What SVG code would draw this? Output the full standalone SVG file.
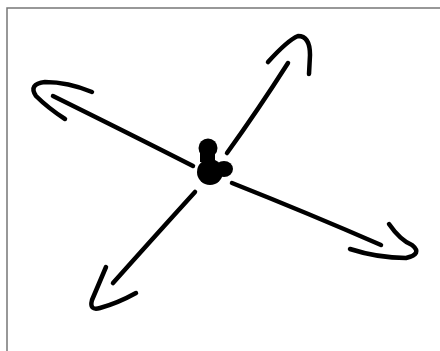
<svg xmlns="http://www.w3.org/2000/svg" width="440" height="351" viewBox="0 0 440 351">
<style>
.ln{fill:none;stroke:#000;stroke-width:4.5;stroke-linecap:round;stroke-linejoin:round}
</style>
<rect x="0" y="0" width="440" height="351" fill="#fff"/>
<rect x="7" y="8" width="440" height="360" fill="none" stroke="#777" stroke-width="1.5"/>
<g id="connectors">
<path class="ln" d="M193,166 Q130,134 53,96"/>
<path class="ln" d="M92,92 Q68,82 45,82 Q28,84 36,96 Q48,108 65,119"/>
<path class="ln" d="M227,153 Q258,110 288,63"/>
<path class="ln" d="M268,62 Q288,40 298,36 Q310,36 310,55 L309,74"/>
<path class="ln" d="M232,183 Q310,214 381,245"/>
<path class="ln" d="M389,224 Q400,240 412,245 Q423,254 406,258 Q378,258 350,249"/>
<path class="ln" d="M195,192 Q155,236 113,283"/>
<path class="ln" d="M106,267 L92,300 Q89,311 100,308 Q118,303 136,293"/>
</g>
<g id="center">
<circle cx="208" cy="148" r="9.5" fill="#000"/>
<rect x="200" y="148" width="15" height="14" fill="#000"/>
<circle cx="210" cy="172" r="13" fill="#000"/>
<ellipse cx="224" cy="169" rx="9" ry="8" fill="#000"/>
</g>
</svg>
